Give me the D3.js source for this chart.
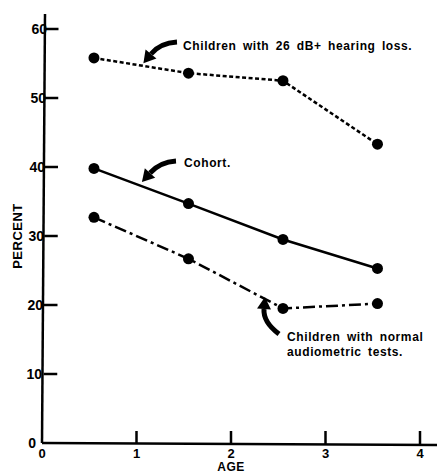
<!DOCTYPE html>
<html>
<head>
<meta charset="utf-8">
<script src="https://cdn.jsdelivr.net/npm/d3@7"></script>
<style>
  body { margin: 0; background: #fff; }
  text { font-family: "Liberation Sans", Arial, sans-serif; font-weight: bold; fill: #000; }
</style>
</head>
<body>
<script>
var width = 437,
    height = 473;

// ages at which each series was measured
var ages = [0.55, 1.55, 2.55, 3.55];
var hearingLoss = [55.8, 53.6, 52.5, 43.3];
var cohort = [39.8, 34.7, 29.5, 25.3];
var normal = [32.7, 26.7, 19.5, 20.2];

var xTicks = [0, 1, 2, 3, 4];
var yTicks = [0, 10, 20, 30, 40, 50, 60];

var margin = {top: 14, right: 0, bottom: 30, left: 43};

var x = d3.scaleLinear().domain([0, 4]).range([42, 420]);
var y = d3.scaleLinear().domain([0, 60]).range([443, 29]);

var svg = d3.select("body").append("svg")
    .attr("width", width)
    .attr("height", height);

// axes drawn by hand-ish, through d3 scales
var yAxis = svg.append("g").attr("transform", "translate(" + x(0) + ",0)");
yAxis.append("line")
    .attr("x1", 3).attr("x2", 0)
    .attr("y1", margin.top).attr("y2", y(0))
    .style("stroke", "#000").style("stroke-width", 2.5);
yAxis.selectAll(".ytick")
    .data(yTicks.filter(function(d) { return d > 0; }))
    .enter().append("line")
    .attr("x1", function(d) { return 1.5 + d / 60 * 1.5; })
    .attr("x2", function(d) { return 15 + d / 60 * 1.5; })
    .attr("y1", function(d) { return y(d); })
    .attr("y2", function(d) { return y(d); })
    .style("stroke", "#000").style("stroke-width", 2.5);
yAxis.selectAll(".ylabel")
    .data(yTicks)
    .enter().append("text")
    .attr("x", function(d) { return d === 0 ? -6 : -1 + d / 60 * 6; })
    .attr("y", function(d) { return y(d) + 5; })
    .attr("text-anchor", "end")
    .style("font-size", "14px")
    .text(function(d) { return d; });

var xAxis = svg.append("g");
xAxis.append("line")
    .attr("x1", x(0)).attr("x2", width)
    .attr("y1", y(0)).attr("y2", y(0) + 2)
    .style("stroke", "#000").style("stroke-width", 2.5);
xAxis.selectAll(".xtick")
    .data(xTicks.filter(function(d) { return d > 0; }))
    .enter().append("line")
    .attr("x1", function(d) { return x(d); })
    .attr("x2", function(d) { return x(d); })
    .attr("y1", function(d) { return y(0) - 12; })
    .attr("y2", function(d) { return y(0) + d / 4 * 1.5; })
    .style("stroke", "#000").style("stroke-width", 2.5);
xAxis.selectAll(".xlabel")
    .data(xTicks)
    .enter().append("text")
    .attr("x", function(d) { return x(d); })
    .attr("y", y(0) + 15)
    .attr("text-anchor", "middle")
    .style("font-size", "13px")
    .text(function(d) { return d; });

svg.append("text")
    .attr("x", x(2))
    .attr("y", 471)
    .attr("text-anchor", "middle")
    .style("font-size", "12px")
    .style("letter-spacing", "0.5px")
    .text("AGE");

svg.append("text")
    .attr("transform", "translate(22," + y(30) + ") rotate(-90)")
    .attr("text-anchor", "middle")
    .style("font-size", "13px")
    .style("letter-spacing", "0.5px")
    .text("PERCENT");

var line = d3.line()
    .x(function(d) { return x(d[0]); })
    .y(function(d) { return y(d[1]); });

var series = [
  {values: hearingLoss, dash: "4,2.5"},
  {values: cohort, dash: null},
  {values: normal, dash: "12,4,3,4"}
];

series.forEach(function(s) {
  var pts = ages.map(function(a, i) { return [a, s.values[i]]; });
  svg.append("path")
      .datum(pts)
      .attr("d", line)
      .style("fill", "none")
      .style("stroke", "#000")
      .style("stroke-width", 2.5)
      .style("stroke-dasharray", s.dash);
  svg.selectAll(null)
      .data(pts)
      .enter().append("circle")
      .attr("cx", function(d) { return x(d[0]); })
      .attr("cy", function(d) { return y(d[1]); })
      .attr("r", 5.5)
      .style("fill", "#000");
});

// curved pointer arrows
function arrow(x0, y0, cx, cy, x1, y1) {
  svg.append("path")
      .attr("d", "M" + x0 + "," + y0 + "Q" + cx + "," + cy + " " + x1 + "," + y1)
      .style("fill", "none")
      .style("stroke", "#000")
      .style("stroke-width", 5);
  var ang = Math.atan2(y1 - cy, x1 - cx);
  var len = 12, w = 7;
  var tx = x1 + Math.cos(ang) * len, ty = y1 + Math.sin(ang) * len;
  var px = -Math.sin(ang) * w, py = Math.cos(ang) * w;
  svg.append("path")
      .attr("d", "M" + tx + "," + ty + "L" + (x1 + px) + "," + (y1 + py) + "L" + (x1 - px) + "," + (y1 - py) + "Z")
      .style("fill", "#000");
}

arrow(177, 42, 160, 43, 151, 54);
arrow(176, 161, 160, 162, 150, 173);
arrow(279, 334, 263, 322, 264, 309);

var labels = [
  {text: "Children with 26 dB+ hearing loss.", x: 183, y: 50},
  {text: "Cohort.", x: 184, y: 167},
  {text: "Children with normal", x: 287, y: 341},
  {text: "audiometric tests.", x: 287, y: 356}
];
svg.selectAll(".label")
    .data(labels)
    .enter().append("text")
    .attr("x", function(d) { return d.x; })
    .attr("y", function(d) { return d.y; })
    .style("font-size", "12px")
    .style("letter-spacing", "0.6px")
    .style("word-spacing", "2.5px")
    .text(function(d) { return d.text; });
</script>
</body>
</html>
